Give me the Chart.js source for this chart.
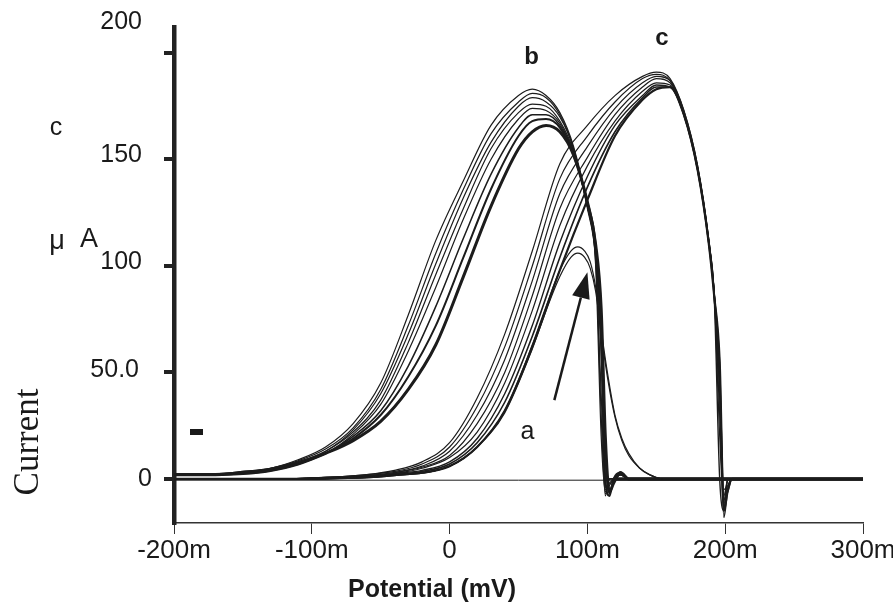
<!DOCTYPE html>
<html>
<head>
<meta charset="utf-8">
<script src="https://cdn.jsdelivr.net/npm/chart.js@4.4.1/dist/chart.umd.min.js"></script>
<style>
  html, body { margin: 0; padding: 0; background: #fff; }
  #wrap { width: 893px; height: 603px; position: relative; }
</style>
</head>
<body>
<div id="wrap"><canvas id="cv" width="893" height="603"></canvas></div>
<script>
// axis ticks
const xTicks = [-200, -100, 0, 100, 200, 300];
const xTickLabels = ['-200m', '-100m', '0', '100m', '200m', '300m'];
const yTicks = [0, 50, 100, 150, 200];
const yTickLabels = ['0', '50.0', '100', '150', '200'];

// family b (potential in mV, current in uA)
const bX = [-200, -170, -150, -130, -110, -90, -70, -50, -30, -10, 10, 30, 50, 60, 70, 80, 90, 100, 106, 110, 113, 116, 119, 124, 130, 300];
const b1 = [2.5, 2.5, 3.5, 5, 9, 15, 26, 45, 77, 112, 140, 166, 180, 183, 180, 172, 156, 128, 100, 20, -6, 0, 0, 2, 0, 0];
const b2 = [2.5, 2.5, 3.5, 5, 8.5, 14, 24, 42, 72, 106, 136, 162, 177, 181, 179, 171, 155, 128, 102, 40, -4, -2, 0, 2, 0, 0];
const b3 = [2.5, 2.5, 3, 5, 8, 13, 23, 40, 68, 101, 132, 158, 175, 179, 177, 170, 155, 127, 104, 60, -7, 0, 0, 2, 0, 0];
const b4 = [2, 2.5, 3, 4.5, 8, 13, 22, 37, 64, 96, 127, 155, 172, 176, 175, 168, 154, 128, 106, 30, -8, 0, 0, 2, 0, 0];
const b5 = [2, 2, 3, 4.5, 7.5, 12, 21, 35, 60, 90, 122, 150, 169, 174, 173, 167, 153, 128, 107, 75, -5, -3, 0, 2, 0, 0];
const b6 = [2, 2, 3, 4, 7.5, 12, 20, 32, 53, 81, 113, 143, 165, 171, 171, 166, 153, 129, 108, 60, 10, -7, 0, 2, 0, 0];
const b7 = [2, 2, 2.5, 4, 7, 12, 19, 30, 48, 72, 104, 136, 161, 168, 169, 165, 152, 130, 110, 70, 0, -8, 0, 3, 0, 0];
const b8 = [2, 2, 2.5, 4, 7, 12, 18, 27, 42, 63, 95, 128, 155, 163, 166, 163, 152, 130, 110, 80, 20, -6, -2, 3, 0, 0];

// family c
const cX = [-200, -120, -100, -80, -60, -40, -20, 0, 20, 40, 60, 80, 100, 120, 140, 150, 160, 170, 180, 188, 192, 196, 199, 202, 205, 210, 300];
const c1 = [0, 0, 0.5, 1, 2, 4, 8, 17, 38, 68, 107, 148, 166, 180, 189, 191, 188, 173, 147, 113, 88, 40, -8, 0, 0, 0, 0];
const c2 = [0, 0, 0.5, 1, 2, 3.5, 7, 15, 34, 62, 100, 141, 161, 177, 188, 190, 187, 173, 147, 113, 88, 30, -10, 0, 0, 0, 0];
const c3 = [0, 0, 0.5, 1, 1.5, 3, 6, 13, 30, 56, 93, 134, 156, 174, 186, 189, 187, 172, 146, 112, 88, 50, -5, -3, 0, 0, 0];
const c4 = [0, 0, 0.5, 1, 1.5, 3, 5.5, 11, 26, 50, 86, 127, 151, 171, 184, 188, 186, 172, 146, 112, 87, 20, -12, 0, 0, 0, 0];
const c5 = [0, 0, 0, 0.5, 1, 2.5, 5, 10, 22, 45, 79, 119, 147, 168, 182, 186, 185, 172, 146, 112, 87, 55, -10, -6, 0, 0, 0];
const c6 = [0, 0, 0, 0.5, 1, 2.5, 4, 8, 19, 40, 72, 111, 142, 166, 180, 185, 184, 171, 145, 111, 86, 0, -15, 0, 0, 0, 0];
const c7 = [0, 0, 0, 0.5, 1, 2, 3.5, 7, 17, 36, 67, 104, 137, 163, 179, 184, 184, 171, 145, 111, 86, 42, -18, -4, 0, 0, 0];
const c8 = [0, 0, 0, 0.5, 1, 2, 3, 6, 15, 32, 62, 98, 131, 161, 178, 183, 184, 171, 145, 111, 86, 55, -15, -5, 0, 0, 0];

// family a
const aX = [-200, -100, -40, 0, 20, 40, 60, 70, 80, 88, 93, 98, 102, 106, 110, 115, 120, 125, 130, 138, 145, 155, 300];
const a1 = [0, 0, 1.5, 6, 15, 32, 63, 81, 98, 107, 109, 107, 102, 90, 70, 48, 30, 19, 12, 5, 2, 0, 0];
const a2 = [0, 0, 1.5, 6, 15, 31, 61, 79, 95, 104, 106, 104, 99, 88, 68, 46, 29, 18, 11, 5, 2, 0, 0];

// baselines
const baseX = [-200, 300];
const baseY = [-0.6, -0.6];
const flatX = [120, 300];
const flatY = [0, 0];

function pts(xs, ys) { return xs.map((x, i) => ({ x: x, y: ys[i] })); }

function line(xs, ys, w) {
  return {
    data: pts(xs, ys),
    borderColor: '#1c1c1c',
    borderWidth: w,
    pointRadius: 0,
    fill: false,
    cubicInterpolationMode: 'monotone'
  };
}

const datasets = [
  line(baseX, baseY, 1),
  line(aX, a1, 1.2), line(aX, a2, 1.2),
  line(cX, c1, 1.2), line(cX, c2, 1.2), line(cX, c3, 1.2), line(cX, c4, 1.2),
  line(cX, c5, 1.2), line(cX, c6, 1.4), line(cX, c7, 1.6), line(cX, c8, 2.2),
  line(bX, b1, 1.2), line(bX, b2, 1.2), line(bX, b3, 1.2), line(bX, b4, 1.2),
  line(bX, b5, 1.2), line(bX, b6, 1.5), line(bX, b7, 2), line(bX, b8, 3),
  line(flatX, flatY, 3.5)
];

const annotate = {
  id: 'annotate',
  afterDraw(chart) {
    const ctx = chart.ctx;
    const xs = chart.scales.x, ys = chart.scales.y;
    ctx.save();
    ctx.fillStyle = '#1a1a1a';
    ctx.strokeStyle = '#1a1a1a';

    // y tick labels (the scan has them nudged upward, 200 most of all)
    const yNudge = { 0: 0, 50: -2, 100: -4, 150: -4, 200: -31 };
    const yRight = { 0: 152, 50: 139, 100: 142, 150: 142, 200: 142 };
    ctx.font = '25px "Liberation Sans", Arial, sans-serif';
    ctx.textAlign = 'right';
    ctx.textBaseline = 'middle';
    yTicks.forEach((v, i) => {
      ctx.fillText(yTickLabels[i], yRight[v], ys.getPixelForValue(v) + yNudge[v]);
    });

    // x tick labels
    ctx.font = '26px "Liberation Sans", Arial, sans-serif';
    ctx.textAlign = 'center';
    xTicks.forEach((v, i) => {
      ctx.fillText(xTickLabels[i], xs.getPixelForValue(v), 551);
    });

    // axis title
    ctx.font = 'bold 25px "Liberation Sans", Arial, sans-serif';
    ctx.fillText('Potential (mV)', 432, 590);

    // curve letters
    ctx.font = 'bold 24px "Liberation Sans", Arial, sans-serif';
    ctx.fillText('b', xs.getPixelForValue(59.5), ys.getPixelForValue(198));
    ctx.fillText('c', xs.getPixelForValue(154), ys.getPixelForValue(207));
    ctx.font = '25px "Liberation Sans", Arial, sans-serif';
    ctx.fillText('a', xs.getPixelForValue(56.5), ys.getPixelForValue(22));

    // left side labels
    ctx.fillText('c', 56, 128);
    ctx.font = '27px "Liberation Sans", Arial, sans-serif';
    ctx.fillText('\u03bc', 57, 242);
    ctx.fillText('A', 89, 240);
    ctx.fillRect(190, 429, 13, 6);

    ctx.save();
    ctx.translate(29, 442);
    ctx.rotate(-Math.PI / 2);
    ctx.font = '35px "Liberation Serif", "Times New Roman", serif';
    ctx.fillText('Current', 0, 0);
    ctx.restore();

    // arrow pointing at curve a
    const x0 = xs.getPixelForValue(76), y0 = ys.getPixelForValue(37);
    const x1 = xs.getPixelForValue(100), y1 = ys.getPixelForValue(97);
    const ang = Math.atan2(y1 - y0, x1 - x0);
    const hl = 26, hw = 9;
    const bx = x1 - hl * Math.cos(ang), by = y1 - hl * Math.sin(ang);
    ctx.lineWidth = 2.5;
    ctx.beginPath();
    ctx.moveTo(x0, y0);
    ctx.lineTo(bx, by);
    ctx.stroke();
    ctx.beginPath();
    ctx.moveTo(x1, y1);
    ctx.lineTo(bx + hw * Math.sin(ang), by - hw * Math.cos(ang));
    ctx.lineTo(bx - hw * Math.sin(ang), by + hw * Math.cos(ang));
    ctx.closePath();
    ctx.fill();
    ctx.restore();
  }
};

new Chart(document.getElementById('cv'), {
  type: 'line',
  data: { datasets: datasets },
  plugins: [annotate],
  options: {
    responsive: false,
    animation: false,
    events: [],
    layout: { padding: { left: 164, top: 27, right: 30, bottom: 69 } },
    plugins: { legend: { display: false }, tooltip: { enabled: false } },
    scales: {
      x: {
        type: 'linear',
        min: -200,
        max: 300,
        afterBuildTicks: s => { s.ticks = xTicks.map(v => ({ value: v })); },
        ticks: { display: false },
        grid: { drawOnChartArea: false, drawTicks: true, tickLength: 11, color: '#333', lineWidth: 1 },
        border: { display: true, color: '#333', width: 1.5 }
      },
      y: {
        type: 'linear',
        min: -20.7,
        max: 212.2,
        afterBuildTicks: s => { s.ticks = yTicks.map(v => ({ value: v })); },
        ticks: { display: false },
        grid: { drawOnChartArea: false, drawTicks: true, tickLength: 10, color: '#222', lineWidth: 4 },
        border: { display: true, color: '#222', width: 4.5 }
      }
    }
  }
});
</script>
</body>
</html>
